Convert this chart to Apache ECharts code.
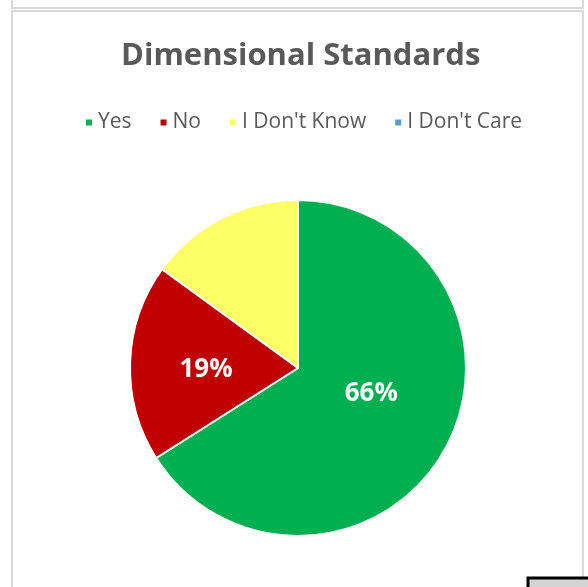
<!DOCTYPE html>
<html>
<head>
<meta charset="utf-8">
<style>
  html, body { margin: 0; padding: 0; background: #ffffff; }
  #chart { width: 588px; height: 587px; }
</style>
<script src="https://cdn.jsdelivr.net/npm/echarts@6/dist/echarts.min.js"></script>
</head>
<body>
<div id="chart"></div>
<script>
// Survey answers for "Dimensional Standards" (percent of responses)
const categories = ['Yes', 'No', "I Don't Know", "I Don't Care"];
const shares = [66, 19, 15, 0];
const sliceColors = ['#00B050', '#C00000', '#FFFF66', '#5B9BD5'];
// Only the two largest slices carry a percent label
const showLabel = [true, true, false, false];

const chart = echarts.init(document.getElementById('chart'), null, { renderer: 'canvas' });

const labelShift = [[-3, -16], [-5, 4], [0, 0], [0, 0]];

const option = {
  backgroundColor: '#ffffff',
  animation: false,
  title: {
    text: 'Dimensional Standards',
    left: 116,
    top: 36,
    textStyle: {
      fontFamily: 'Open Sans',
      fontWeight: 'bold',
      fontSize: 31,
      color: '#595959'
    }
  },
  legend: {
    left: 79,
    top: 107,
    icon: 'rect',
    itemWidth: 8,
    itemHeight: 8,
    itemGap: 27,
    selectedMode: false,
    data: categories,
    textStyle: {
      fontFamily: 'Open Sans',
      fontSize: 21,
      color: '#595959'
    }
  },
  graphic: [
    // frame of the panel above (only its lower edge is visible)
    { type: 'rect', silent: true, shape: { x: 12, y: -10, width: 571, height: 18 },
      style: { fill: 'none', stroke: '#d9d9d9', lineWidth: 2 } },
    // chart frame
    { type: 'rect', silent: true, shape: { x: 12, y: 11, width: 571, height: 600 },
      style: { fill: 'none', stroke: '#d9d9d9', lineWidth: 2 } },
    // corner of the sheet box at lower right
    { type: 'rect', silent: true, z: 10, shape: { x: 528, y: 578, width: 80, height: 40 },
      style: { fill: '#d4d4d4', stroke: '#000000', lineWidth: 3 } }
  ],
  series: [{
    type: 'pie',
    center: [298, 368],
    radius: [0, 168],
    startAngle: 90,
    clockwise: true,
    stillShowZeroSum: false,
    emphasis: { disabled: true },
    itemStyle: { borderColor: '#ffffff', borderWidth: 2 },
    label: {
      position: 'inside',
      formatter: p => showLabel[p.dataIndex] ? p.value + '%' : '',
      fontFamily: 'Open Sans',
      fontWeight: 'bold',
      fontSize: 26,
      color: '#ffffff'
    },
    labelLine: { show: false },
    labelLayout: p => ({ dx: labelShift[p.dataIndex][0], dy: labelShift[p.dataIndex][1] }),
    data: categories.map((name, i) => ({
      name: name,
      value: shares[i],
      itemStyle: { color: sliceColors[i] }
    }))
  }]
};

chart.setOption(option);
</script>
</body>
</html>
